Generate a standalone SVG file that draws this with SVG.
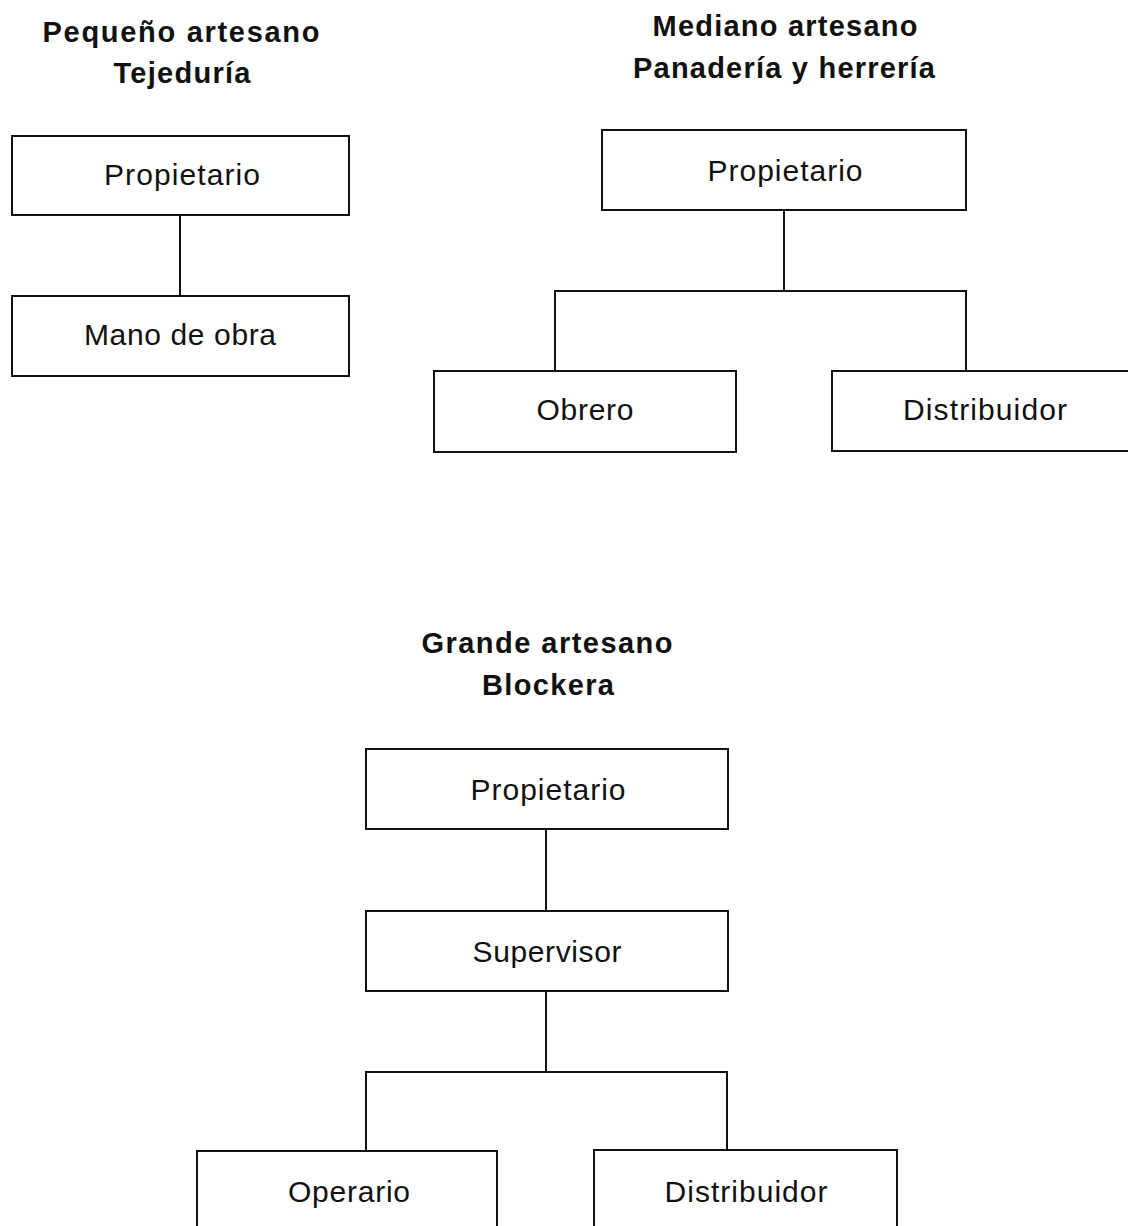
<svg xmlns="http://www.w3.org/2000/svg" width="1128" height="1226" viewBox="0 0 1128 1226">
<style>
.box{fill:#fff;stroke:#111;stroke-width:2}
.con{fill:none;stroke:#111;stroke-width:2}
.t{font-family:"Liberation Sans",Arial,sans-serif;font-size:30px;fill:#111;text-anchor:middle}
.h{font-family:"Liberation Sans",Arial,sans-serif;font-size:29px;font-weight:bold;fill:#111;text-anchor:middle}
</style>
<rect width="1128" height="1226" fill="#fff"/>
<g id="titles">
<text class="h" x="181" y="42" textLength="277" lengthAdjust="spacing">Pequeño artesano</text>
<text class="h" x="182" y="83" textLength="137" lengthAdjust="spacing">Tejeduría</text>
<text class="h" x="785" y="36" textLength="265" lengthAdjust="spacing">Mediano artesano</text>
<text class="h" x="784" y="78" textLength="302" lengthAdjust="spacing">Panadería y herrería</text>
<text class="h" x="547" y="653" textLength="251" lengthAdjust="spacing">Grande artesano</text>
<text class="h" x="548" y="695" textLength="132" lengthAdjust="spacing">Blockera</text>
</g>
<g id="connectors">
<line class="con" x1="180" y1="215" x2="180" y2="296"/>
<polyline class="con" points="784,210 784,291"/>
<polyline class="con" points="555,371 555,291 966,291 966,371"/>
<line class="con" x1="546" y1="829" x2="546" y2="911"/>
<line class="con" x1="546" y1="991" x2="546" y2="1072"/>
<polyline class="con" points="366,1151 366,1072 727,1072 727,1150"/>
</g>
<g id="n-tl-propietario">
<rect class="box" x="12" y="136" width="337" height="79"/>
<text class="t" x="182" y="185" textLength="156" lengthAdjust="spacing">Propietario</text>
</g>
<g id="n-tl-mano">
<rect class="box" x="12" y="296" width="337" height="80"/>
<text class="t" x="180" y="345" textLength="192" lengthAdjust="spacing">Mano de obra</text>
</g>
<g id="n-tr-propietario">
<rect class="box" x="602" y="130" width="364" height="80"/>
<text class="t" x="785" y="181" textLength="155" lengthAdjust="spacing">Propietario</text>
</g>
<g id="n-tr-obrero">
<rect class="box" x="434" y="371" width="302" height="81"/>
<text class="t" x="585" y="420" textLength="97" lengthAdjust="spacing">Obrero</text>
</g>
<g id="n-tr-distribuidor">
<rect class="box" x="832" y="371" width="310" height="80"/>
<text class="t" x="985" y="420" textLength="164" lengthAdjust="spacing">Distribuidor</text>
</g>
<g id="n-b-propietario">
<rect class="box" x="366" y="749" width="362" height="80"/>
<text class="t" x="548" y="800" textLength="155" lengthAdjust="spacing">Propietario</text>
</g>
<g id="n-b-supervisor">
<rect class="box" x="366" y="911" width="362" height="80"/>
<text class="t" x="547" y="962" textLength="149" lengthAdjust="spacing">Supervisor</text>
</g>
<g id="n-b-operario">
<rect class="box" x="197" y="1151" width="300" height="90"/>
<text class="t" x="349" y="1202" textLength="122" lengthAdjust="spacing">Operario</text>
</g>
<g id="n-b-distribuidor">
<rect class="box" x="594" y="1150" width="303" height="90"/>
<text class="t" x="746" y="1202" textLength="163" lengthAdjust="spacing">Distribuidor</text>
</g>
</svg>
